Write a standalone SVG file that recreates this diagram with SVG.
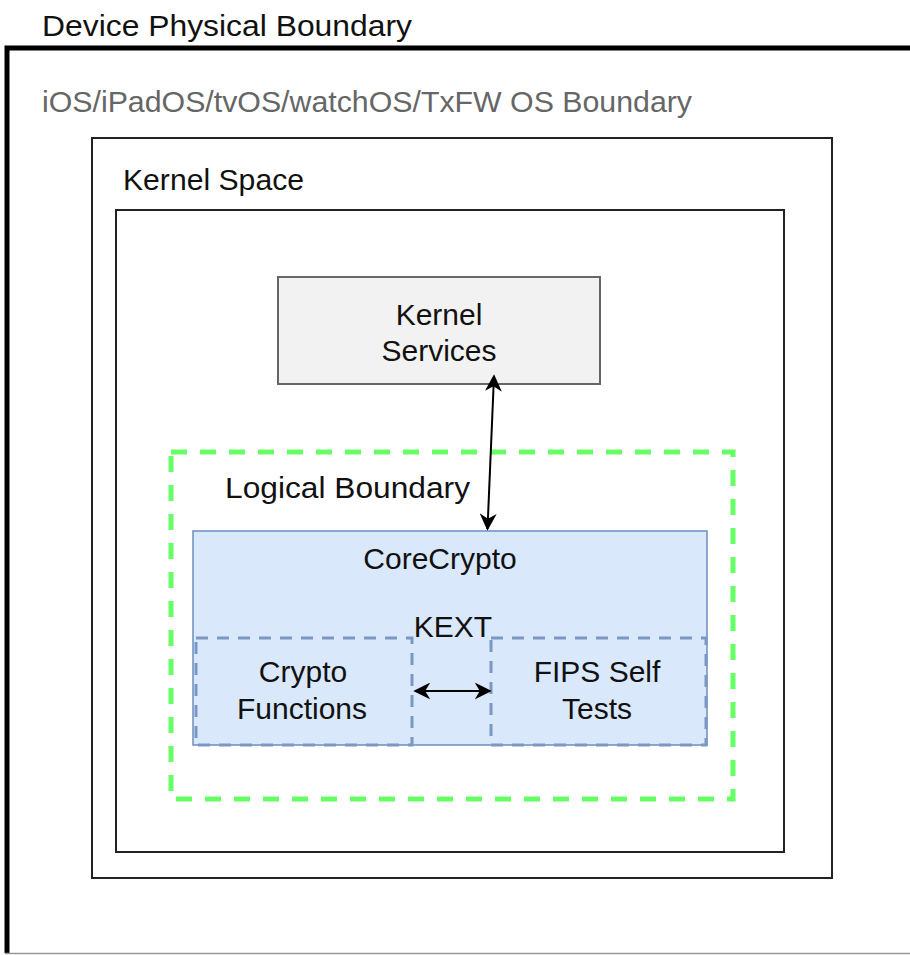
<svg xmlns="http://www.w3.org/2000/svg" width="910" height="955" viewBox="0 0 910 955">
<style>
text{font-family:"Liberation Sans",Arial,sans-serif;font-size:30px;fill:#111}
.c{text-anchor:middle}
.box{fill:none;stroke:#222;stroke-width:2}
</style>
<defs>
<marker id="ah" viewBox="0 0 10 10" refX="9" refY="5" markerWidth="8.5" markerHeight="8.5" orient="auto-start-reverse" markerUnits="strokeWidth">
<path d="M0,0 L10,5 L0,10 L3,5 Z" fill="#000"/>
</marker>
</defs>
<rect width="910" height="955" fill="#fff"/>
<g id="device">
<path d="M7,953 L7,48 L915,48" fill="none" stroke="#000" stroke-width="5"/>
<line x1="5" y1="953.5" x2="910" y2="953.5" stroke="#999" stroke-width="1.5"/>
<text x="42" y="36" textLength="370" lengthAdjust="spacingAndGlyphs">Device Physical Boundary</text>
</g>
<g id="os">
<rect class="box" x="92" y="138" width="740" height="740"/>
<text x="42" y="112" textLength="650" lengthAdjust="spacingAndGlyphs" style="fill:#666">iOS/iPadOS/tvOS/watchOS/TxFW OS Boundary</text>
</g>
<g id="kernel-space">
<rect class="box" x="116" y="210" width="668" height="642"/>
<text x="123" y="190" textLength="181" lengthAdjust="spacingAndGlyphs">Kernel Space</text>
</g>
<g id="kernel-services">
<rect x="278" y="277" width="322" height="107" fill="#f2f2f2" stroke="#666" stroke-width="2"/>
<text class="c" x="439" y="325">Kernel</text>
<text class="c" x="439" y="361">Services</text>
</g>
<g id="logical-boundary">
<rect x="171" y="452" width="562" height="347" fill="none" stroke="#66ff66" stroke-width="5" stroke-dasharray="16,13"/>
<text x="225" y="498" textLength="245" lengthAdjust="spacingAndGlyphs">Logical Boundary</text>
</g>
<g id="corecrypto">
<rect x="193" y="531" width="514" height="214" fill="#dae8fc" stroke="#6c8ebf" stroke-width="1.5"/>
<text class="c" x="440" y="569">CoreCrypto</text>
<text class="c" x="453" y="637">KEXT</text>
</g>
<g id="crypto-functions">
<rect x="196" y="638" width="216" height="107" fill="none" stroke="#7b97c4" stroke-width="3" stroke-dasharray="12,9"/>
<text class="c" x="303" y="682">Crypto</text>
<text class="c" x="302" y="719">Functions</text>
</g>
<g id="fips-self-tests">
<rect x="491" y="638" width="215" height="107" fill="none" stroke="#7b97c4" stroke-width="3" stroke-dasharray="12,9"/>
<text class="c" x="597" y="682">FIPS Self</text>
<text class="c" x="597" y="719">Tests</text>
</g>
<g id="connectors" stroke="#000" stroke-width="2" fill="none">
<line x1="494" y1="376" x2="487.5" y2="529" marker-start="url(#ah)" marker-end="url(#ah)"/>
<line x1="415" y1="691" x2="490" y2="691" marker-start="url(#ah)" marker-end="url(#ah)"/>
</g>
</svg>
